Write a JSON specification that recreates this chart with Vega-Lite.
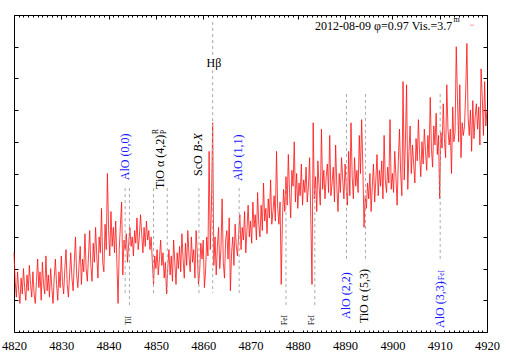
{
"$schema":"https://vega.github.io/schema/vega-lite/v6.json",
"width":473,"height":317,
"autosize":{"type":"none"},
"padding":{"left":14,"top":15,"right":22,"bottom":24},
"background":"white",
"config":{"view":{"stroke":"black","strokeWidth":1},"axis":{"tickColor":"black","tickWidth":1,"grid":false,"domain":false,"title":null,"labelFont":"Liberation Serif","labelColor":"black"},"text":{"font":"Liberation Serif"}},
"datasets":{
"spec":[
{"w":4820,"f":2.5},{"w":4820.25,"f":1.6},{"w":4820.5,"f":1.1},{"w":4820.75,"f":1.9},{"w":4821,"f":1.3},{"w":4821.25,"f":0.9},{"w":4821.5,"f":1.7},{"w":4821.75,"f":1.2},{"w":4822,"f":2.0},{"w":4822.25,"f":1.4},
{"w":4822.5,"f":1.0},{"w":4822.75,"f":1.8},{"w":4823,"f":1.3},{"w":4823.25,"f":2.1},{"w":4823.5,"f":1.5},{"w":4823.75,"f":1.1},{"w":4824,"f":1.9},{"w":4824.25,"f":1.2},{"w":4824.5,"f":0.9},{"w":4824.75,"f":1.6},
{"w":4825,"f":2.3},{"w":4825.25,"f":1.4},{"w":4825.5,"f":1.9},{"w":4825.75,"f":1.0},{"w":4826,"f":2.2},{"w":4826.25,"f":1.5},{"w":4826.5,"f":1.2},{"w":4826.75,"f":2.4},{"w":4827,"f":1.3},{"w":4827.25,"f":1.8},
{"w":4827.5,"f":1.1},{"w":4827.75,"f":2.0},{"w":4828,"f":1.4},{"w":4828.25,"f":0.9},{"w":4828.5,"f":1.7},{"w":4828.75,"f":2.3},{"w":4829,"f":1.5},{"w":4829.25,"f":1.0},{"w":4829.5,"f":1.9},{"w":4829.75,"f":1.4},
{"w":4830,"f":2.4},{"w":4830.25,"f":1.6},{"w":4830.5,"f":1.2},{"w":4830.75,"f":2.0},{"w":4831,"f":2.6},{"w":4831.25,"f":1.5},{"w":4831.5,"f":1.1},{"w":4831.75,"f":1.8},{"w":4832,"f":2.5},{"w":4832.25,"f":1.7},
{"w":4832.5,"f":1.3},{"w":4832.75,"f":2.2},{"w":4833,"f":3.0},{"w":4833.25,"f":1.8},{"w":4833.5,"f":1.4},{"w":4833.75,"f":2.1},{"w":4834,"f":2.7},{"w":4834.25,"f":1.5},{"w":4834.5,"f":2.3},{"w":4834.75,"f":1.9},
{"w":4835,"f":3.1},{"w":4835.25,"f":2.0},{"w":4835.5,"f":1.6},{"w":4835.75,"f":2.4},{"w":4836,"f":3.2},{"w":4836.25,"f":2.1},{"w":4836.5,"f":1.6},{"w":4836.75,"f":2.8},{"w":4837,"f":2.2},{"w":4837.25,"f":3.3},
{"w":4837.5,"f":2.4},{"w":4837.75,"f":1.7},{"w":4838,"f":3.0},{"w":4838.25,"f":2.5},{"w":4838.5,"f":3.9},{"w":4838.75,"f":2.2},{"w":4839,"f":1.9},{"w":4839.25,"f":3.4},{"w":4839.5,"f":2.6},{"w":4839.75,"f":5.0},
{"w":4840,"f":3.2},{"w":4840.25,"f":2.4},{"w":4840.5,"f":3.8},{"w":4840.75,"f":2.7},{"w":4841,"f":3.3},{"w":4841.25,"f":2.5},{"w":4841.5,"f":3.5},{"w":4841.75,"f":2.2},{"w":4842,"f":0.9},{"w":4842.25,"f":2.6},
{"w":4842.5,"f":3.4},{"w":4842.75,"f":4.1},{"w":4843,"f":1.8},{"w":4843.25,"f":2.9},{"w":4843.5,"f":2.6},{"w":4843.75,"f":3.1},{"w":4844,"f":2.2},{"w":4844.25,"f":2.8},{"w":4844.5,"f":3.3},{"w":4844.75,"f":2.7},
{"w":4845,"f":3.0},{"w":4845.25,"f":2.4},{"w":4845.5,"f":3.2},{"w":4845.75,"f":2.8},{"w":4846,"f":3.6},{"w":4846.25,"f":2.6},{"w":4846.5,"f":3.0},{"w":4846.75,"f":3.7},{"w":4847,"f":3.1},{"w":4847.25,"f":2.5},
{"w":4847.5,"f":3.3},{"w":4847.75,"f":2.7},{"w":4848,"f":3.5},{"w":4848.25,"f":2.9},{"w":4848.5,"f":3.2},{"w":4848.75,"f":2.6},{"w":4849,"f":3.0},{"w":4849.25,"f":2.2},{"w":4849.5,"f":1.5},{"w":4849.75,"f":2.4},
{"w":4850,"f":2.0},{"w":4850.25,"f":2.6},{"w":4850.5,"f":1.8},{"w":4850.75,"f":2.3},{"w":4851,"f":2.9},{"w":4851.25,"f":2.1},{"w":4851.5,"f":2.5},{"w":4851.75,"f":1.7},{"w":4852,"f":2.2},{"w":4852.25,"f":1.2},
{"w":4852.5,"f":2.0},{"w":4852.75,"f":2.6},{"w":4853,"f":1.8},{"w":4853.25,"f":2.4},{"w":4853.5,"f":1.6},{"w":4853.75,"f":2.9},{"w":4854,"f":2.2},{"w":4854.25,"f":1.5},{"w":4854.5,"f":2.5},{"w":4854.75,"f":2.0},
{"w":4855,"f":2.7},{"w":4855.25,"f":1.9},{"w":4855.5,"f":3.1},{"w":4855.75,"f":2.3},{"w":4856,"f":1.7},{"w":4856.25,"f":2.8},{"w":4856.5,"f":2.1},{"w":4856.75,"f":3.2},{"w":4857,"f":2.4},{"w":4857.25,"f":1.9},
{"w":4857.5,"f":3.0},{"w":4857.75,"f":2.2},{"w":4858,"f":2.6},{"w":4858.25,"f":1.7},{"w":4858.5,"f":3.2},{"w":4858.75,"f":2.5},{"w":4859,"f":1.5},{"w":4859.25,"f":1.9},{"w":4859.5,"f":2.8},{"w":4859.75,"f":2.3},
{"w":4860,"f":2.9},{"w":4860.25,"f":1.4},{"w":4860.5,"f":1.9},{"w":4860.75,"f":3.0},{"w":4861,"f":2.4},{"w":4861.25,"f":5.7},{"w":4861.5,"f":2.6},{"w":4861.75,"f":4.0},{"w":4862,"f":6.6},{"w":4862.25,"f":2.1},
{"w":4862.5,"f":3.0},{"w":4862.75,"f":1.8},{"w":4863,"f":2.7},{"w":4863.25,"f":3.3},{"w":4863.5,"f":2.0},{"w":4863.75,"f":2.6},{"w":4864,"f":4.2},{"w":4864.25,"f":2.2},{"w":4864.5,"f":1.7},{"w":4864.75,"f":2.9},
{"w":4865,"f":3.2},{"w":4865.25,"f":2.3},{"w":4865.5,"f":3.6},{"w":4865.75,"f":1.3},{"w":4866,"f":2.5},{"w":4866.25,"f":3.0},{"w":4866.5,"f":2.1},{"w":4866.75,"f":3.4},{"w":4867,"f":2.7},{"w":4867.25,"f":2.4},
{"w":4867.5,"f":3.1},{"w":4867.75,"f":3.7},{"w":4868,"f":2.6},{"w":4868.25,"f":3.3},{"w":4868.5,"f":2.9},{"w":4868.75,"f":3.8},{"w":4869,"f":2.5},{"w":4869.25,"f":3.2},{"w":4869.5,"f":4.0},{"w":4869.75,"f":3.0},
{"w":4870,"f":3.5},{"w":4870.25,"f":2.8},{"w":4870.5,"f":4.1},{"w":4870.75,"f":3.3},{"w":4871,"f":3.7},{"w":4871.25,"f":2.9},{"w":4871.5,"f":4.4},{"w":4871.75,"f":3.4},{"w":4872,"f":3.0},{"w":4872.25,"f":4.0},
{"w":4872.5,"f":3.2},{"w":4872.75,"f":4.7},{"w":4873,"f":3.5},{"w":4873.25,"f":3.9},{"w":4873.5,"f":3.1},{"w":4873.75,"f":4.2},{"w":4874,"f":3.6},{"w":4874.25,"f":4.8},{"w":4874.5,"f":3.4},{"w":4874.75,"f":3.8},
{"w":4875,"f":4.3},{"w":4875.25,"f":3.5},{"w":4875.5,"f":5.7},{"w":4875.75,"f":3.9},{"w":4876,"f":3.4},{"w":4876.25,"f":4.1},{"w":4876.5,"f":1.5},{"w":4876.75,"f":3.6},{"w":4877,"f":4.5},{"w":4877.25,"f":3.8},
{"w":4877.5,"f":4.9},{"w":4877.75,"f":4.0},{"w":4878,"f":5.6},{"w":4878.25,"f":4.4},{"w":4878.5,"f":3.6},{"w":4878.75,"f":5.1},{"w":4879,"f":4.6},{"w":4879.25,"f":6.0},{"w":4879.5,"f":4.1},{"w":4879.75,"f":5.0},
{"w":4880,"f":3.9},{"w":4880.25,"f":4.7},{"w":4880.5,"f":4.3},{"w":4880.75,"f":5.3},{"w":4881,"f":4.0},{"w":4881.25,"f":4.8},{"w":4881.5,"f":4.4},{"w":4881.75,"f":5.2},{"w":4882,"f":4.1},{"w":4882.25,"f":4.6},
{"w":4882.5,"f":5.5},{"w":4882.75,"f":3.6},{"w":4883,"f":1.5},{"w":4883.25,"f":6.6},{"w":4883.5,"f":4.2},{"w":4883.75,"f":4.9},{"w":4884,"f":3.8},{"w":4884.25,"f":5.4},{"w":4884.5,"f":4.6},{"w":4884.75,"f":4.0},
{"w":4885,"f":6.4},{"w":4885.25,"f":4.5},{"w":4885.5,"f":5.1},{"w":4885.75,"f":4.2},{"w":4886,"f":4.9},{"w":4886.25,"f":5.3},{"w":4886.5,"f":4.4},{"w":4886.75,"f":6.2},{"w":4887,"f":4.3},{"w":4887.25,"f":4.7},
{"w":4887.5,"f":5.2},{"w":4887.75,"f":4.1},{"w":4888,"f":5.9},{"w":4888.25,"f":4.6},{"w":4888.5,"f":3.8},{"w":4888.75,"f":5.0},{"w":4889,"f":4.4},{"w":4889.25,"f":5.5},{"w":4889.5,"f":4.8},{"w":4889.75,"f":4.2},
{"w":4890,"f":5.3},{"w":4890.25,"f":4.5},{"w":4890.5,"f":4.0},{"w":4890.75,"f":5.7},{"w":4891,"f":4.3},{"w":4891.25,"f":6.6},{"w":4891.5,"f":4.9},{"w":4891.75,"f":4.2},{"w":4892,"f":5.5},{"w":4892.25,"f":4.6},
{"w":4892.5,"f":5.1},{"w":4892.75,"f":4.4},{"w":4893,"f":6.2},{"w":4893.25,"f":5.0},{"w":4893.5,"f":6.7},{"w":4893.75,"f":5.2},{"w":4894,"f":3.3},{"w":4894.25,"f":4.3},{"w":4894.5,"f":3.9},{"w":4894.75,"f":4.7},
{"w":4895,"f":4.2},{"w":4895.25,"f":5.0},{"w":4895.5,"f":3.8},{"w":4895.75,"f":4.6},{"w":4896,"f":5.3},{"w":4896.25,"f":4.1},{"w":4896.5,"f":4.8},{"w":4896.75,"f":5.6},{"w":4897,"f":4.3},{"w":4897.25,"f":5.1},
{"w":4897.5,"f":4.6},{"w":4897.75,"f":5.4},{"w":4898,"f":4.2},{"w":4898.25,"f":6.2},{"w":4898.5,"f":4.8},{"w":4898.75,"f":4.4},{"w":4899,"f":5.2},{"w":4899.25,"f":4.7},{"w":4899.5,"f":6.7},{"w":4899.75,"f":4.5},
{"w":4900,"f":5.0},{"w":4900.25,"f":4.4},{"w":4900.5,"f":5.7},{"w":4900.75,"f":4.9},{"w":4901,"f":4.0},{"w":4901.25,"f":5.4},{"w":4901.5,"f":6.4},{"w":4901.75,"f":5.0},{"w":4902,"f":4.3},{"w":4902.25,"f":7.9},
{"w":4902.5,"f":4.8},{"w":4902.75,"f":6.0},{"w":4903,"f":7.8},{"w":4903.25,"f":4.5},{"w":4903.5,"f":5.7},{"w":4903.75,"f":6.5},{"w":4904,"f":5.0},{"w":4904.25,"f":5.9},{"w":4904.5,"f":5.3},{"w":4904.75,"f":4.7},
{"w":4905,"f":6.1},{"w":4905.25,"f":5.4},{"w":4905.5,"f":6.7},{"w":4905.75,"f":5.6},{"w":4906,"f":4.9},{"w":4906.25,"f":6.0},{"w":4906.5,"f":5.3},{"w":4906.75,"f":6.4},{"w":4907,"f":5.7},{"w":4907.25,"f":5.1},
{"w":4907.5,"f":6.2},{"w":4907.75,"f":5.5},{"w":4908,"f":7.4},{"w":4908.25,"f":5.8},{"w":4908.5,"f":5.2},{"w":4908.75,"f":6.5},{"w":4909,"f":5.9},{"w":4909.25,"f":6.9},{"w":4909.5,"f":5.6},{"w":4909.75,"f":6.2},
{"w":4910,"f":4.2},{"w":4910.25,"f":6.3},{"w":4910.5,"f":5.8},{"w":4910.75,"f":7.2},{"w":4911,"f":6.1},{"w":4911.25,"f":5.5},{"w":4911.5,"f":7.8},{"w":4911.75,"f":6.4},{"w":4912,"f":5.9},{"w":4912.25,"f":6.4},
{"w":4912.5,"f":5.0},{"w":4912.75,"f":7.1},{"w":4913,"f":6.0},{"w":4913.25,"f":6.3},{"w":4913.5,"f":9.0},{"w":4913.75,"f":7.4},{"w":4914,"f":6.0},{"w":4914.25,"f":7.8},{"w":4914.5,"f":5.5},{"w":4914.75,"f":6.6},
{"w":4915,"f":6.2},{"w":4915.25,"f":6.5},{"w":4915.5,"f":7.6},{"w":4915.75,"f":9.1},{"w":4916,"f":6.8},{"w":4916.25,"f":6.2},{"w":4916.5,"f":7.0},{"w":4916.75,"f":5.7},{"w":4917,"f":7.3},{"w":4917.25,"f":6.1},
{"w":4917.5,"f":6.8},{"w":4917.75,"f":7.2},{"w":4918,"f":6.4},{"w":4918.25,"f":7.1},{"w":4918.5,"f":5.9},{"w":4918.75,"f":8.3},{"w":4919,"f":7.4},{"w":4919.25,"f":6.2},{"w":4919.5,"f":7.9},{"w":4919.75,"f":6.5},
{"w":4920,"f":7.0}
],
"rules":[
{"w":4843.5,"v1":4.54,"v2":1.23},{"w":4844.4,"v1":4.54,"v2":0.79},{"w":4849.5,"v1":4.54,"v2":1.23},{"w":4852.4,"v1":4.54,"v2":1.23},{"w":4859.1,"v1":4.54,"v2":1.23},{"w":4862.0,"v1":9.78,"v2":8.71},{"w":4862.0,"v1":8.26,"v2":1.23},{"w":4867.6,"v1":4.54,"v2":1.23},{"w":4877.5,"v1":4.54,"v2":0.79},{"w":4883.6,"v1":4.54,"v2":0.79},{"w":4890.3,"v1":7.51,"v2":2.24},{"w":4894.3,"v1":7.51,"v2":2.24},{"w":4910.1,"v1":7.51,"v2":2.24}
],
"big":[
{"t":"AlO (0,0)","w":4843.47,"v":4.79,"k":"AlO"},{"t":"TiO α (4,2)","w":4850.97,"v":4.51,"k":"mol"},{"t":"ScO","w":4858.9,"v":4.92,"k":"mol"},{"t":"AlO (1,1)","w":4867.36,"v":4.76,"k":"AlO"},{"t":"AlO (2,2)","w":4890.25,"v":0.41,"k":"AlO"},{"t":"TiO α (5,3)","w":4894.1,"v":0.28,"k":"mol"},{"t":"AlO (3,3)","w":4910.06,"v":0.13,"k":"AlO"}
],
"ital":[{"t":"B-X","w":4858.9,"v":5.68}],
"small":[
{"t":"TiI","w":4844.38,"v":0.22,"k":"mol"},{"t":"FeI","w":4877.19,"v":0.22,"k":"mol"},{"t":"FeI","w":4883.0,"v":0.22,"k":"mol"},{"t":"+FeI","w":4910.49,"v":1.51,"k":"AlO"}
],
"sup":[{"t":"R","w":4850.02,"v":6.25},{"t":"P","w":4851.71,"v":6.25}],
"hb":[{"t":"Hβ","w":4862.28,"v":8.49}],
"key":[{"t":"2012-08-09 φ=0.97 Vis.=3.7","w":4912.68,"v":9.65}],
"keym":[{"t":"m","w":4912.9,"v":9.84}],
"keyline":[{"w":4916.4,"w2":4917.3,"v":9.68}]
},
"resolve":{"axis":{"x":"independent","y":"independent"}},
"layer":[
{"data":{"name":"spec"},"mark":{"type":"line","color":"#ff1010","strokeWidth":0.8},
"encoding":{
"x":{"field":"w","type":"quantitative","scale":{"domain":[4820,4920],"nice":false,"zero":false},"axis":{"orient":"bottom","values":[4820,4830,4840,4850,4860,4870,4880,4890,4900,4910,4920],"format":"d","ticks":false,"labelFont":"Liberation Serif","labelFontSize":12.5,"labelPadding":7,"labelFlush":false,"labelOverlap":false}},
"y":{"field":"f","type":"quantitative","scale":{"domain":[0,10],"nice":false,"zero":false},"axis":{"orient":"left","values":[0,1,2,3,4,5,6,7,8,9,10],"labels":false,"tickSize":-4}}}},
{"data":{"name":"rules"},"mark":{"type":"rule","stroke":"#aaaaaa","strokeWidth":1,"strokeDash":[3,3]},
"encoding":{
"x":{"field":"w","type":"quantitative","scale":{"domain":[4820,4920],"nice":false,"zero":false},"axis":{"orient":"top","values":[4820,4830,4840,4850,4860,4870,4880,4890,4900,4910,4920],"labels":false,"tickSize":-4}},
"y":{"field":"v1","type":"quantitative","scale":{"domain":[0,10],"nice":false,"zero":false},"axis":{"orient":"right","values":[0,1,2,3,4,5,6,7,8,9,10],"labels":false,"tickSize":-4}},
"y2":{"field":"v2"}}},
{"data":{"name":"big"},"mark":{"type":"text","angle":270,"align":"left","baseline":"middle","fontSize":12,"font":"Liberation Serif"},
"encoding":{
"x":{"field":"w","type":"quantitative","scale":{"domain":[4820,4920],"nice":false,"zero":false},"axis":{"orient":"bottom","values":[4821,4822,4823,4824,4825,4826,4827,4828,4829,4831,4832,4833,4834,4835,4836,4837,4838,4839,4841,4842,4843,4844,4845,4846,4847,4848,4849,4851,4852,4853,4854,4855,4856,4857,4858,4859,4861,4862,4863,4864,4865,4866,4867,4868,4869,4871,4872,4873,4874,4875,4876,4877,4878,4879,4881,4882,4883,4884,4885,4886,4887,4888,4889,4891,4892,4893,4894,4895,4896,4897,4898,4899,4901,4902,4903,4904,4905,4906,4907,4908,4909,4911,4912,4913,4914,4915,4916,4917,4918,4919],"labels":false,"tickSize":-2}},
"y":{"field":"v","type":"quantitative","scale":{"domain":[0,10],"nice":false,"zero":false},"axis":null},
"text":{"field":"t"},
"color":{"field":"k","type":"nominal","scale":{"domain":["AlO","mol"],"range":["#1a1aff","#000000"]},"legend":null}}},
{"data":{"name":"small"},"mark":{"type":"text","angle":270,"align":"left","baseline":"middle","fontSize":7.5,"font":"Liberation Serif"},
"encoding":{
"x":{"field":"w","type":"quantitative","scale":{"domain":[4820,4920],"nice":false,"zero":false},"axis":{"orient":"top","values":[4821,4822,4823,4824,4825,4826,4827,4828,4829,4831,4832,4833,4834,4835,4836,4837,4838,4839,4841,4842,4843,4844,4845,4846,4847,4848,4849,4851,4852,4853,4854,4855,4856,4857,4858,4859,4861,4862,4863,4864,4865,4866,4867,4868,4869,4871,4872,4873,4874,4875,4876,4877,4878,4879,4881,4882,4883,4884,4885,4886,4887,4888,4889,4891,4892,4893,4894,4895,4896,4897,4898,4899,4901,4902,4903,4904,4905,4906,4907,4908,4909,4911,4912,4913,4914,4915,4916,4917,4918,4919],"labels":false,"tickSize":-2}},
"y":{"field":"v","type":"quantitative","scale":{"domain":[0,10],"nice":false,"zero":false},"axis":null},
"text":{"field":"t"},
"color":{"field":"k","type":"nominal","scale":{"domain":["AlO","mol"],"range":["#1a1aff","#000000"]},"legend":null}}},
{"data":{"name":"ital"},"mark":{"type":"text","angle":270,"align":"left","baseline":"middle","fontSize":12,"fontStyle":"italic","font":"Liberation Serif","color":"black"},
"encoding":{
"x":{"field":"w","type":"quantitative","scale":{"domain":[4820,4920],"nice":false,"zero":false},"axis":null},
"y":{"field":"v","type":"quantitative","scale":{"domain":[0,10],"nice":false,"zero":false},"axis":null},
"text":{"field":"t"}}},
{"data":{"name":"sup"},"mark":{"type":"text","angle":270,"align":"left","baseline":"middle","fontSize":7.5,"font":"Liberation Serif","color":"black"},
"encoding":{
"x":{"field":"w","type":"quantitative","scale":{"domain":[4820,4920],"nice":false,"zero":false},"axis":null},
"y":{"field":"v","type":"quantitative","scale":{"domain":[0,10],"nice":false,"zero":false},"axis":null},
"text":{"field":"t"}}},
{"data":{"name":"hb"},"mark":{"type":"text","align":"center","baseline":"middle","fontSize":12,"font":"Liberation Serif","color":"black"},
"encoding":{
"x":{"field":"w","type":"quantitative","scale":{"domain":[4820,4920],"nice":false,"zero":false},"axis":null},
"y":{"field":"v","type":"quantitative","scale":{"domain":[0,10],"nice":false,"zero":false},"axis":null},
"text":{"field":"t"}}},
{"data":{"name":"key"},"mark":{"type":"text","align":"right","baseline":"middle","fontSize":12,"font":"Liberation Serif","color":"black"},
"encoding":{
"x":{"field":"w","type":"quantitative","scale":{"domain":[4820,4920],"nice":false,"zero":false},"axis":null},
"y":{"field":"v","type":"quantitative","scale":{"domain":[0,10],"nice":false,"zero":false},"axis":null},
"text":{"field":"t"}}},
{"data":{"name":"keym"},"mark":{"type":"text","align":"left","baseline":"middle","fontSize":8,"font":"Liberation Serif","color":"black"},
"encoding":{
"x":{"field":"w","type":"quantitative","scale":{"domain":[4820,4920],"nice":false,"zero":false},"axis":null},
"y":{"field":"v","type":"quantitative","scale":{"domain":[0,10],"nice":false,"zero":false},"axis":null},
"text":{"field":"t"}}},
{"data":{"name":"keyline"},"mark":{"type":"rule","stroke":"#ff9a9a","strokeWidth":1},
"encoding":{
"x":{"field":"w","type":"quantitative","scale":{"domain":[4820,4920],"nice":false,"zero":false},"axis":null},
"x2":{"field":"w2"},
"y":{"field":"v","type":"quantitative","scale":{"domain":[0,10],"nice":false,"zero":false},"axis":null}}}
]
}
